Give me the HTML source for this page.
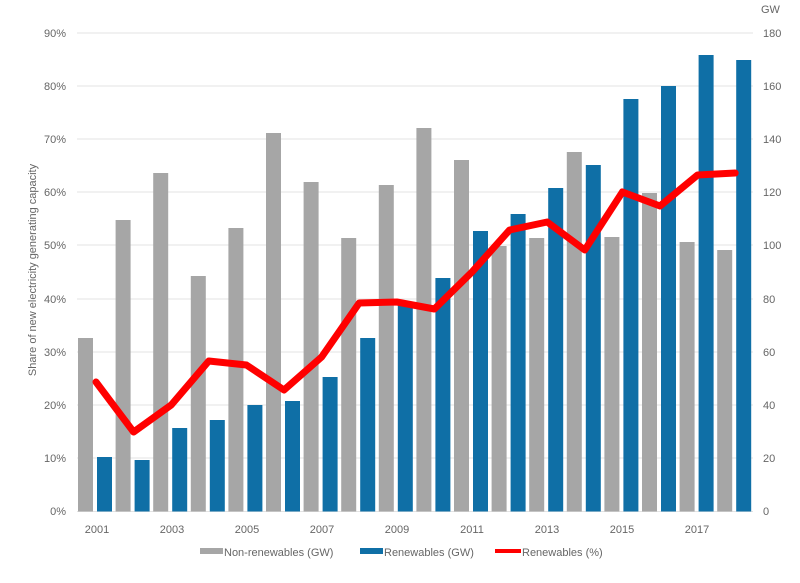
<!DOCTYPE html>
<html><head><meta charset="utf-8"><style>
body{margin:0;background:#fff;}
svg text{font-family:"Liberation Sans",sans-serif;fill:#666;font-size:11px;}
</style></head><body>
<svg width="800" height="578" viewBox="0 0 800 578" xmlns="http://www.w3.org/2000/svg">
<g stroke="#e3e3e3" stroke-width="1">
<line x1="77" x2="753" y1="33" y2="33"/><line x1="77" x2="753" y1="86" y2="86"/>
<line x1="77" x2="753" y1="139" y2="139"/><line x1="77" x2="753" y1="192" y2="192"/>
<line x1="77" x2="753" y1="245" y2="245"/><line x1="77" x2="753" y1="299" y2="299"/>
<line x1="77" x2="753" y1="352" y2="352"/><line x1="77" x2="753" y1="405" y2="405"/>
<line x1="77" x2="753" y1="458" y2="458"/><line x1="77" x2="753" y1="511.5" y2="511.5"/>
</g>
<g text-anchor="end">
<text x="66" y="37">90%</text><text x="66" y="90">80%</text><text x="66" y="143">70%</text>
<text x="66" y="196">60%</text><text x="66" y="249">50%</text><text x="66" y="303">40%</text>
<text x="66" y="356">30%</text><text x="66" y="409">20%</text><text x="66" y="462">10%</text>
<text x="66" y="515">0%</text>
</g>
<g>
<text x="763" y="37">180</text><text x="763" y="90">160</text><text x="763" y="143">140</text>
<text x="763" y="196">120</text><text x="763" y="249">100</text><text x="763" y="303">80</text>
<text x="763" y="356">60</text><text x="763" y="409">40</text><text x="763" y="462">20</text>
<text x="763" y="515">0</text><text x="761" y="13">GW</text>
</g>
<text transform="translate(36,270) rotate(-90)" text-anchor="middle" font-size="10.5">Share of new electricity generating capacity</text>
<g fill="#a6a6a6">
<rect x="78" y="338" width="15" height="173.5"/><rect x="115.6" y="220" width="15" height="291.5"/>
<rect x="153.2" y="173" width="15" height="338.5"/><rect x="190.8" y="276" width="15" height="235.5"/>
<rect x="228.4" y="228" width="15" height="283.5"/><rect x="266" y="133" width="15" height="378.5"/>
<rect x="303.6" y="182" width="15" height="329.5"/><rect x="341.2" y="238" width="15" height="273.5"/>
<rect x="378.8" y="185" width="15" height="326.5"/><rect x="416.4" y="128" width="15" height="383.5"/>
<rect x="454" y="160" width="15" height="351.5"/><rect x="491.6" y="246" width="15" height="265.5"/>
<rect x="529.2" y="238" width="15" height="273.5"/><rect x="566.8" y="152" width="15" height="359.5"/>
<rect x="604.4" y="237" width="15" height="274.5"/><rect x="642" y="193" width="15" height="318.5"/>
<rect x="679.6" y="242" width="15" height="269.5"/><rect x="717.2" y="250" width="15" height="261.5"/>
</g>
<g fill="#0f6fa6">
<rect x="97" y="457" width="15" height="54.5"/><rect x="134.6" y="460" width="15" height="51.5"/>
<rect x="172.2" y="428" width="15" height="83.5"/><rect x="209.8" y="420" width="15" height="91.5"/>
<rect x="247.4" y="405" width="15" height="106.5"/><rect x="285" y="401" width="15" height="110.5"/>
<rect x="322.6" y="377" width="15" height="134.5"/><rect x="360.2" y="338" width="15" height="173.5"/>
<rect x="397.8" y="305" width="15" height="206.5"/><rect x="435.4" y="278" width="15" height="233.5"/>
<rect x="473" y="231" width="15" height="280.5"/><rect x="510.6" y="214" width="15" height="297.5"/>
<rect x="548.2" y="188" width="15" height="323.5"/><rect x="585.8" y="165" width="15" height="346.5"/>
<rect x="623.4" y="99" width="15" height="412.5"/><rect x="661" y="86" width="15" height="425.5"/>
<rect x="698.6" y="55" width="15" height="456.5"/><rect x="736.2" y="60" width="15" height="451.5"/>
</g>
<polyline fill="none" stroke="#f00" stroke-width="7" stroke-linejoin="round" stroke-linecap="round"
points="96,382 133.6,432 171.2,405 208.8,361 246.4,365 284,390 321.6,357 359.2,303 396.8,302 434.4,309 472,272 509.6,230 547.2,222 584.8,250 622.4,192 660,206 697.6,175 735.2,173"/>
<g text-anchor="middle">
<text x="97" y="533">2001</text><text x="172" y="533">2003</text><text x="247" y="533">2005</text>
<text x="322" y="533">2007</text><text x="397" y="533">2009</text><text x="472" y="533">2011</text>
<text x="547" y="533">2013</text><text x="622" y="533">2015</text><text x="697" y="533">2017</text>
</g>
<rect x="200" y="548" width="23" height="6" fill="#a6a6a6"/>
<text x="224" y="556">Non-renewables (GW)</text>
<rect x="360" y="548" width="23" height="6" fill="#0f6fa6"/>
<text x="384" y="556">Renewables (GW)</text>
<rect x="495" y="549" width="26" height="4" fill="#f00"/>
<text x="522" y="556">Renewables (%)</text>
</svg>
</body></html>
